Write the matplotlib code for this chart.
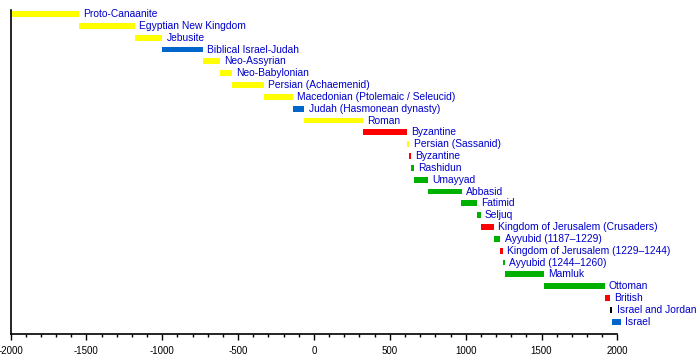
import matplotlib
matplotlib.use("Agg")
import matplotlib.pyplot as plt
from matplotlib.ticker import MultipleLocator

periods = ["Proto-Canaanite", "Egyptian New Kingdom", "Jebusite", "Biblical Israel-Judah",
           "Neo-Assyrian", "Neo-Babylonian", "Persian (Achaemenid)",
           "Macedonian (Ptolemaic / Seleucid)", "Judah (Hasmonean dynasty)", "Roman",
           "Byzantine", "Persian (Sassanid)", "Byzantine", "Rashidun", "Umayyad", "Abbasid",
           "Fatimid", "Seljuq", "Kingdom of Jerusalem (Crusaders)", "Ayyubid (1187\u20131229)",
           "Kingdom of Jerusalem (1229\u20131244)", "Ayyubid (1244\u20131260)", "Mamluk",
           "Ottoman", "British", "Israel and Jordan", "Israel"]
starts = [-2000, -1550, -1180, -1000, -732, -620, -538, -332, -140, -63,
          324, 614, 629, 638, 661, 750, 969, 1073, 1099, 1187,
          1229, 1244, 1260, 1517, 1917, 1948, 1967]
ends = [-1550, -1180, -1000, -732, -620, -538, -332, -140, -63, 324,
        614, 629, 638, 661, 750, 974, 1073, 1099, 1187, 1229,
        1244, 1260, 1517, 1917, 1948, 1967, 2025]
kinds = ["y", "y", "y", "b", "y", "y", "y", "y", "b", "y",
         "r", "y", "r", "g", "g", "g", "g", "g", "r", "g",
         "r", "g", "g", "g", "r", "k", "b"]
palette = {"y": "#FFFF00", "b": "#0066CC", "r": "#FF0000", "g": "#00B000", "k": "#000000"}
text_color = "#0000CC"

plt.rcParams['font.family'] = ['Liberation Sans', 'DejaVu Sans']

fig = plt.figure(figsize=(7, 3.64), dpi=100)
ax = fig.add_axes([0.015, 0.0824, 0.867, 0.8901])

n = len(periods)
for i in range(n):
    ax.barh(i, ends[i] - starts[i], left=starts[i], height=0.5,
            color=palette[kinds[i]], clip_on=False, linewidth=0)
    ax.annotate(periods[i], xy=(ends[i], i), xytext=(3, 0), textcoords="offset points",
                va="center", ha="left", fontsize=7.4, color=text_color,
                annotation_clip=False)

ax.set_xlim(-2000, 2000)
ax.set_ylim(n - 1 + 0.04 + 1.0, -0.34)
ax.set_yticks([])
ax.spines['top'].set_visible(False)
ax.spines['right'].set_visible(False)
ax.spines['left'].set_linewidth(1.2)
ax.spines['bottom'].set_linewidth(1.2)
ax.xaxis.set_major_locator(MultipleLocator(500))
ax.xaxis.set_minor_locator(MultipleLocator(100))
ax.tick_params(axis='x', which='major', length=4, width=1, labelsize=7, pad=4.5)
ax.tick_params(axis='x', which='minor', length=2.5, width=1)
ax.set_xticks(range(-2000, 2001, 500))
ax.set_xticklabels([str(v) for v in range(-2000, 2001, 500)])

fig.savefig("out.png", dpi=100)
